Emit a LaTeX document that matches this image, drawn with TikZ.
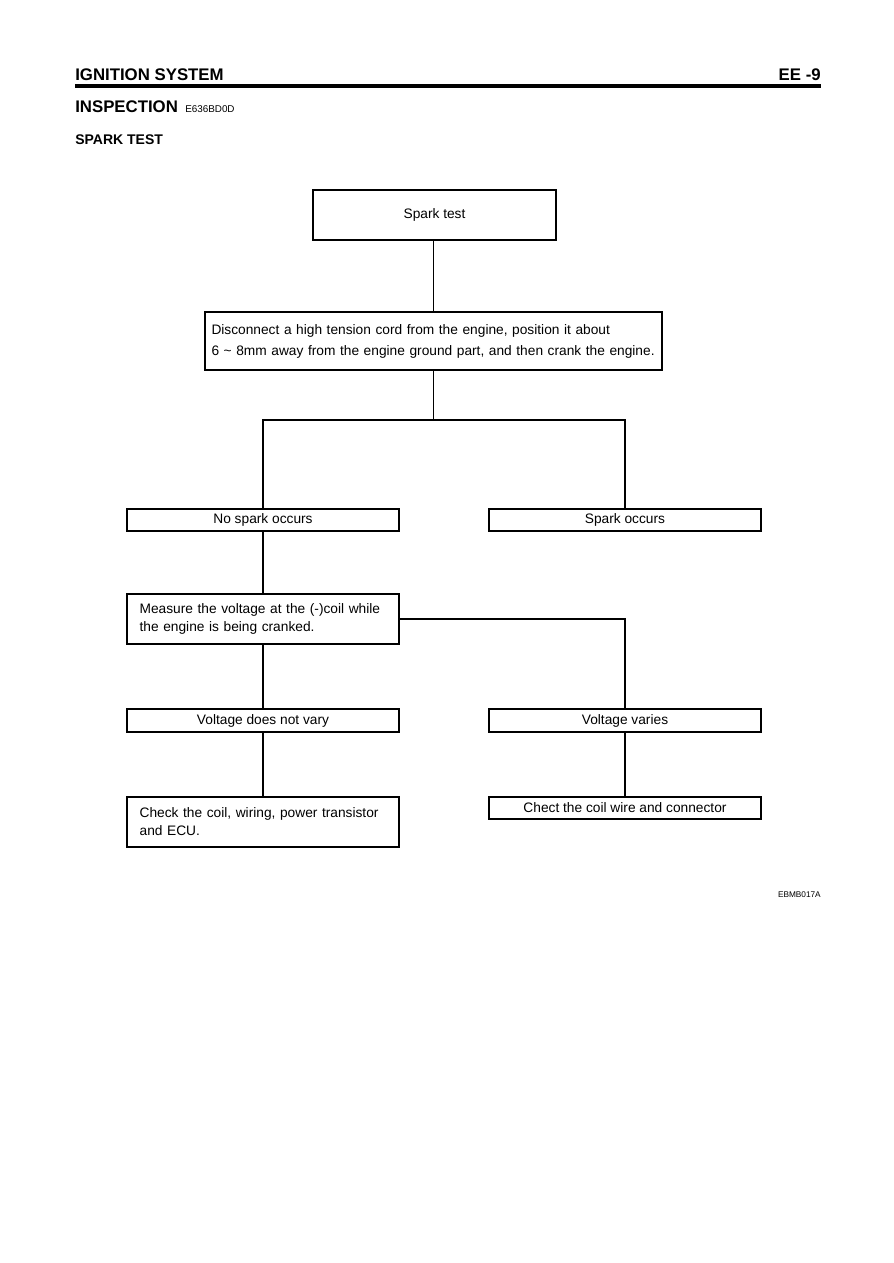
\documentclass[tikz,border=0pt]{standalone}
\usepackage{fontspec}
\setmainfont{Liberation Sans}
\begin{document}
\begin{tikzpicture}[x=0.75pt,y=-0.75pt,
  box/.style={draw, line width=1.1pt, inner sep=0pt, font=\fontsize{10.3}{12}\selectfont},
  lbox/.style={box, align=left, text width=185pt, inner xsep=9.5pt, minimum height=37.5pt, font=\fontsize{10.3}{13.5}\selectfont},
  conn/.style={line width=1pt},
]
\useasboundingbox (0,0) rectangle (893,1263);
\fill[white] (0,0) rectangle (893,1263);

% header
\node[anchor=base west, inner sep=0pt, font=\bfseries\fontsize{12.6}{14}\selectfont] (title) at (75,80) {IGNITION SYSTEM};
\node[anchor=base east, inner sep=0pt, font=\bfseries\fontsize{12.6}{14}\selectfont] (page) at (821,80) {EE -9};
\draw[line width=2.4pt] (75,86) -- (821,86);
\node[anchor=base west, inner sep=0pt, font=\bfseries\fontsize{12.6}{15}\selectfont] (insp) at (75,113) {INSPECTION};
\node[anchor=base west, inner sep=0pt, font=\fontsize{7.4}{9}\selectfont] (code) at (185,113) {E636BD0D};
\node[anchor=base west, inner sep=0pt, font=\bfseries\fontsize{10.5}{12}\selectfont] (sparkhead) at (75,144) {SPARK TEST};

% boxes
\node[box, minimum width=182.25pt, minimum height=37.5pt] (spark) at (434.5,215) {Spark test};
\node[box, align=left, text width=333pt, inner xsep=4.875pt, minimum height=43.5pt, font=\fontsize{10.3}{15.75}\selectfont] (disc) at (433.5,341)
  {Disconnect a high tension cord from the engine, position it about\\6 \textasciitilde{} 8mm away from the engine ground part, and then crank the engine.};
\node[box, minimum width=204pt, minimum height=16.5pt] (nospark) at (263,520) {No spark occurs};
\node[box, minimum width=204pt, minimum height=16.5pt] (sparkocc) at (625,520) {Spark occurs};
\node[lbox] (measure) at (263,619) {Measure the voltage at the (-)coil while\\the engine is being cranked.};
\node[box, minimum width=204pt, minimum height=17.25pt] (vnot) at (263,720.5) {Voltage does not vary};
\node[box, minimum width=204pt, minimum height=17.25pt] (vvar) at (625,720.5) {Voltage varies};
\node[lbox, minimum height=37.5pt] (check) at (263,822) {Check the coil, wiring, power transistor\\and ECU.};
\node[box, minimum width=204pt, minimum height=16.5pt] (chect) at (625,808) {Chect the coil wire and connector};

% connectors
\coordinate (j1) at (433.5,420);
\draw[conn] (disc.north) -- (disc.north |- spark.south);
\draw[conn] (disc.south) -- (j1);
\draw[conn] (nospark.north) |- (j1) -| (sparkocc.north);
\draw[conn] (nospark.south) -- (measure.north);
\draw[conn] (measure.south) -- (vnot.north);
\draw[conn] (measure.east) -| (vvar.north);
\draw[conn] (vnot.south) -- (check.north);
\draw[conn] (vvar.south) -- (chect.north);

% footer
\node[anchor=base east, inner sep=0pt, font=\fontsize{6.2}{7}\selectfont] (fig) at (821,897) {EBMB017A};
\end{tikzpicture}
\end{document}
